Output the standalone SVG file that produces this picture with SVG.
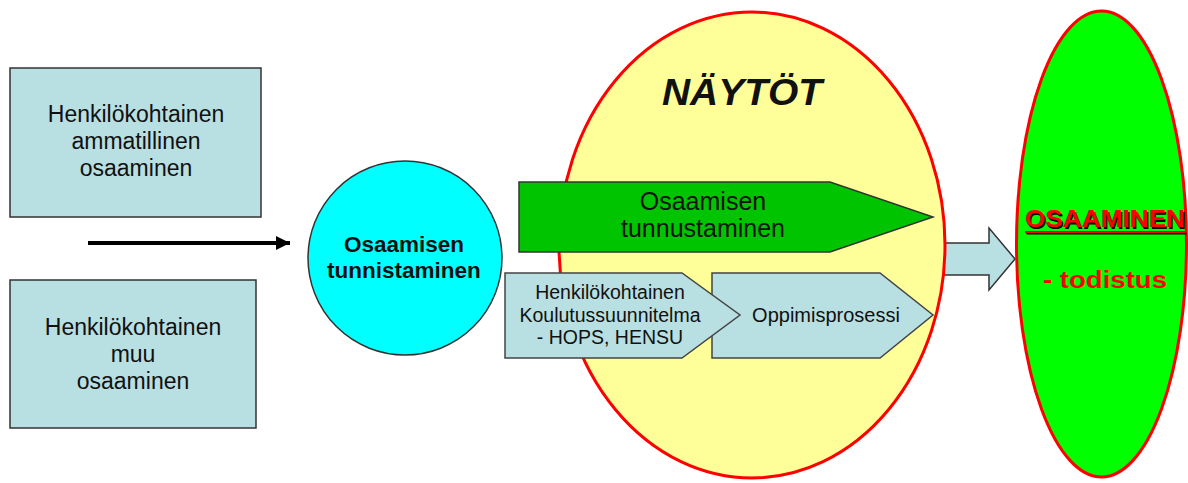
<svg xmlns="http://www.w3.org/2000/svg" width="1188" height="483" viewBox="0 0 1188 483">
  <style>
    .t { font-family: "Liberation Sans", Arial, sans-serif; fill: #111; text-anchor: middle; }
    .box { fill: #b8dfe2; stroke: #333; stroke-width: 1.5; }
    .chev { fill: #b8dfe2; stroke: #444; stroke-width: 1.5; }
    .red { font-family: "Liberation Sans", Arial, sans-serif; font-weight: bold; fill: #ff0000; }
    .shadow { font-family: "Liberation Sans", Arial, sans-serif; font-weight: bold; fill: #000; }
  </style>
  <defs>
    <marker id="ah" viewBox="0 0 10 10" refX="10" refY="5" markerWidth="4.5" markerHeight="3.5" markerUnits="strokeWidth" orient="auto">
      <path d="M0,0 L10,5 L0,10 Z" fill="#000"/>
    </marker>
  </defs>
  <rect width="1188" height="483" fill="#ffffff"/>

  <g id="connectors">
    <line x1="88" y1="243" x2="290" y2="243" stroke="#000" stroke-width="4" marker-end="url(#ah)"/>
    <path d="M930,243 L989,243 L989,228 L1015,259 L989,290 L989,275 L930,275 Z" fill="#b8dfe2" stroke="#333" stroke-width="1.5"/>
  </g>

  <g id="box-ammatillinen">
    <rect class="box" x="10" y="68" width="251" height="149"/>
    <text class="t" font-size="23" x="136" y="122">Henkilökohtainen</text>
    <text class="t" font-size="23" x="136" y="149">ammatillinen</text>
    <text class="t" font-size="23" x="136" y="176">osaaminen</text>
  </g>

  <g id="box-muu">
    <rect class="box" x="10" y="280" width="246" height="148"/>
    <text class="t" font-size="23" x="133" y="335">Henkilökohtainen</text>
    <text class="t" font-size="23" x="133" y="362">muu</text>
    <text class="t" font-size="23" x="133" y="389">osaaminen</text>
  </g>

  <g id="circle-tunnistaminen">
    <circle cx="405" cy="258" r="97" fill="#00ffff" stroke="#333" stroke-width="1.5"/>
    <text class="t" font-size="22.5" font-weight="bold" x="404" y="252">Osaamisen</text>
    <text class="t" font-size="22.5" font-weight="bold" x="404" y="278">tunnistaminen</text>
  </g>

  <g id="naytot">
    <ellipse cx="752" cy="245" rx="193" ry="233" fill="#ffff99" stroke="#ff0000" stroke-width="3"/>
    <text class="t" font-size="36" font-weight="bold" font-style="italic" x="742" y="105" textLength="160" lengthAdjust="spacingAndGlyphs">NÄYTÖT</text>
  </g>

  <g id="arrow-tunnustaminen">
    <path d="M519,182 L830,182 L933,217 L830,252 L519,252 Z" fill="#00c400" stroke="#333" stroke-width="1.5"/>
    <text class="t" font-size="25" x="703" y="210">Osaamisen</text>
    <text class="t" font-size="25" x="703" y="237">tunnustaminen</text>
  </g>

  <g id="chevron-oppimisprosessi">
    <path class="chev" d="M712,273 L880,273 L933,315 L880,358 L712,358 Z"/>
    <text class="t" font-size="20" x="826" y="322">Oppimisprosessi</text>
  </g>

  <g id="chevron-hops">
    <path class="chev" d="M505,273 L682,273 L740,315 L682,358 L505,358 Z"/>
    <text class="t" font-size="19.5" x="610" y="299">Henkilökohtainen</text>
    <text class="t" font-size="19.5" x="610" y="322">Koulutussuunnitelma</text>
    <text class="t" font-size="19.5" x="610" y="344">- HOPS, HENSU</text>
  </g>

  <g id="osaaminen">
    <ellipse cx="1101.5" cy="244" rx="85" ry="233" fill="#00ff00" stroke="#ff0000" stroke-width="3"/>
    <text class="shadow" font-size="23" x="1026.5" y="228.5" textLength="160" lengthAdjust="spacingAndGlyphs">OSAAMINEN</text>
    <line x1="1026.5" y1="233.5" x2="1186.5" y2="233.5" stroke="#000" stroke-width="2"/>
    <text class="red" font-size="23" x="1025" y="227" textLength="160" lengthAdjust="spacingAndGlyphs">OSAAMINEN</text>
    <line x1="1025" y1="232" x2="1185" y2="232" stroke="#ff0000" stroke-width="2"/>
    <text class="red" font-size="23" x="1043" y="288" textLength="124" lengthAdjust="spacingAndGlyphs">- todistus</text>
  </g>
</svg>
